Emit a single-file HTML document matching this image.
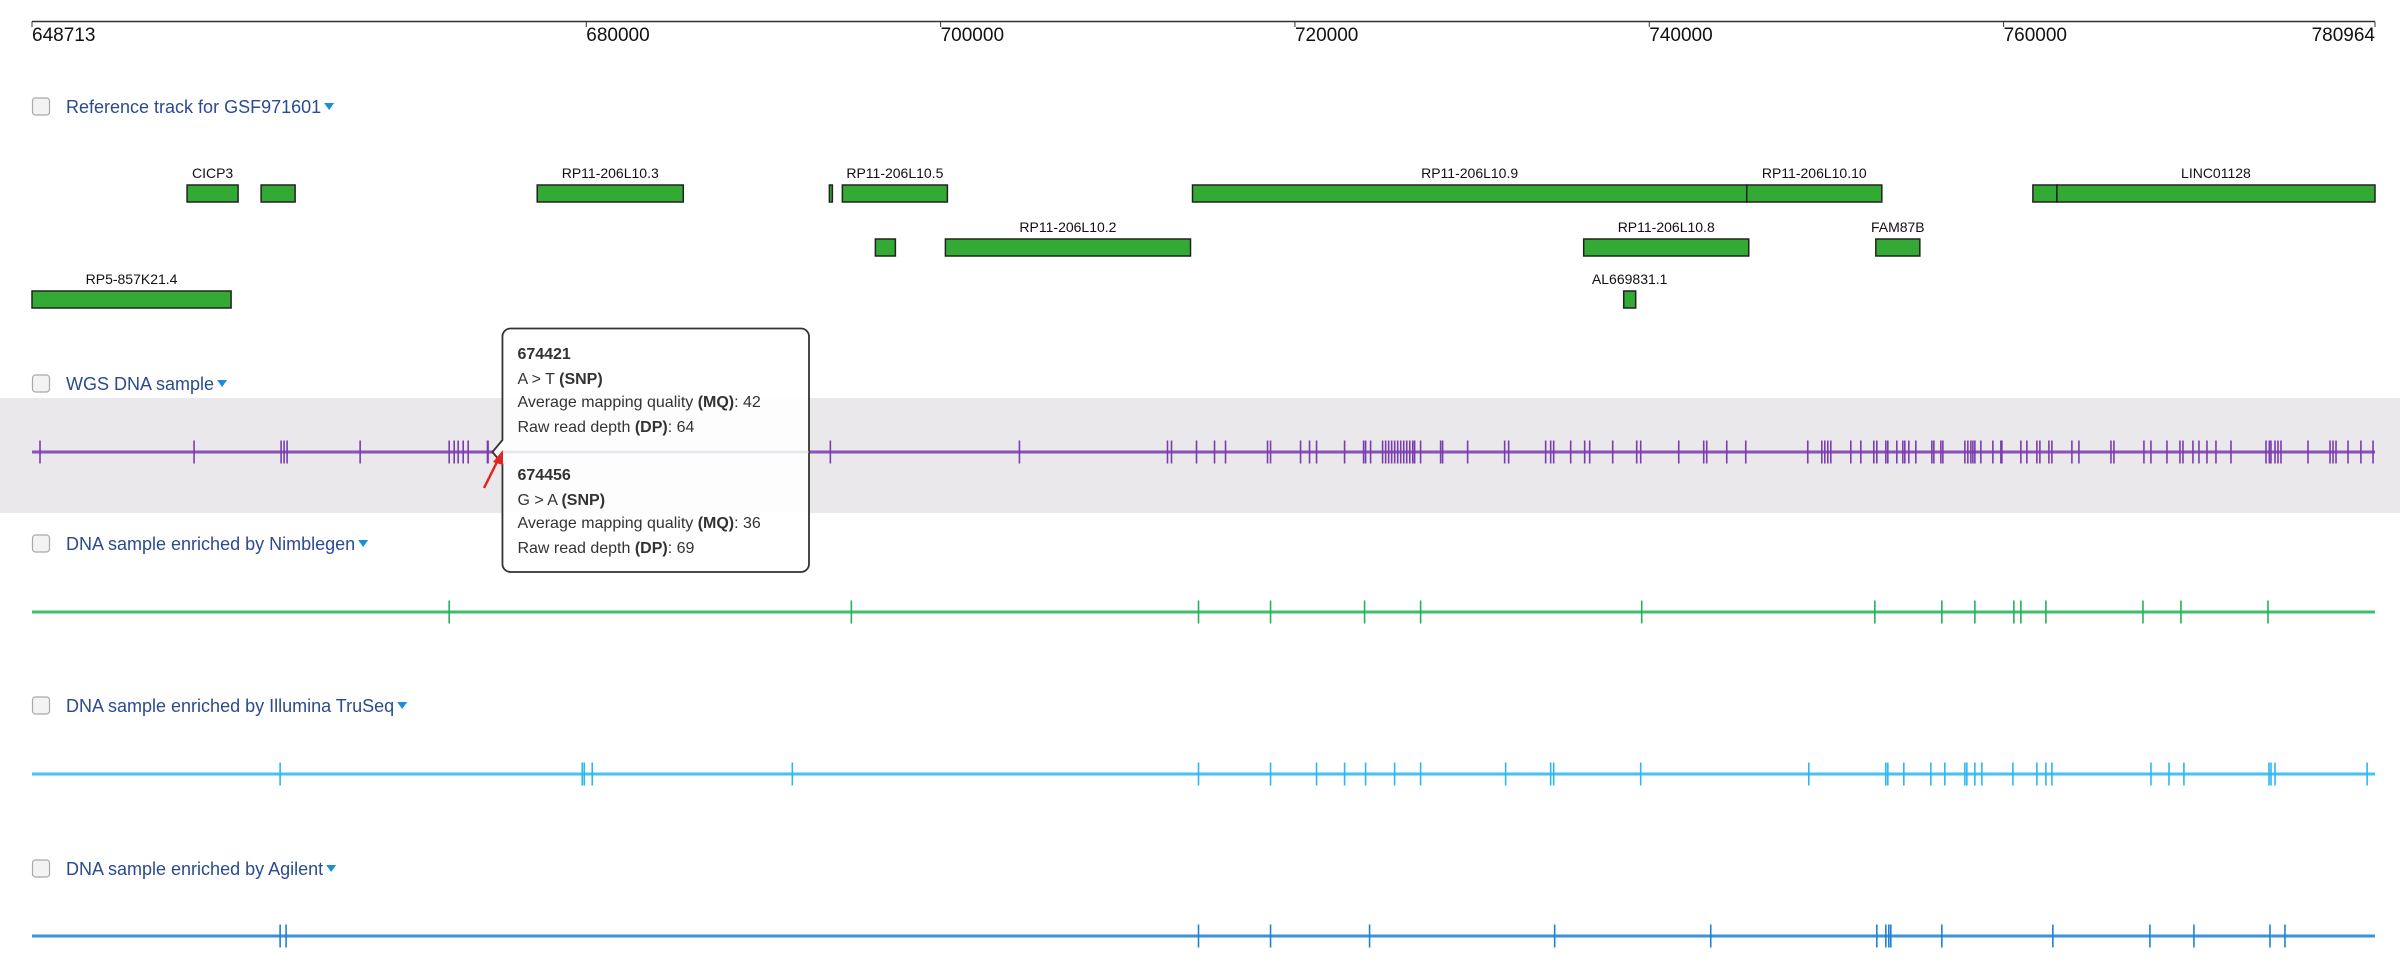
<!DOCTYPE html>
<html><head><meta charset="utf-8">
<style>
html,body{margin:0;padding:0;background:#fff;}
body{width:2400px;height:972px;overflow:hidden;position:relative;font-family:"Liberation Sans",Arial,sans-serif;}
svg{position:absolute;left:0;top:0;}
.lbl{font-size:18px;fill:#2b4a91;}
.gl{font-size:14px;fill:#111;text-anchor:middle;}
.ax{font-size:19px;fill:#111;}
.tt{font-size:16px;fill:#333;}
</style></head>
<body>
<svg id="chart" width="2400" height="972" viewBox="0 0 2400 972" xmlns="http://www.w3.org/2000/svg"></svg>
<script>
// ---- data ----
const axisStart = 648713;
const axisEnd = 780964;
const tickValues = [680000, 700000, 720000, 740000, 760000];
const geneNames = ["CICP3","","RP11-206L10.3","","RP11-206L10.5","RP11-206L10.9","RP11-206L10.10","","LINC01128","","RP11-206L10.2","RP11-206L10.8","FAM87B","RP5-857K21.4","AL669831.1"];
const geneStarts = [657466,661645,677230,693720,694454,714218,745503,761653,763008,696317,700270,736298,752787,648713,738557];
const geneEnds   = [660346,663565,685475,693890,700383,745503,753126,763008,780964,697447,714105,745616,755272,659951,739234];
const geneRows   = [0,0,0,0,0,0,0,0,0,1,1,1,1,2,2];
const wgsVariants = [649165,657861,662774,662943,663113,667235,672261,672543,672769,673052,673334,674421,674456,693776,704449,712806,713032,714444,715461,716082,718453,718623,720317,720825,721220,722802,723875,723988,724270,724948,725120,725290,725460,725630,725800,725970,726140,726310,726480,726650,726755,727093,728223,728336,729747,731837,732063,734152,734434,734604,735564,736354,736636,737936,739291,739517,741663,743074,743244,744373,745446,748947,749738,749907,750077,750246,751375,751940,752674,752844,753352,753465,753973,754312,754425,754651,755046,755950,756063,756458,756571,757813,757982,758152,758265,758378,758717,759394,759846,759902,760975,761314,761879,762048,762557,762726,763855,764251,766059,766228,767921,768316,769220,769954,770124,770688,771027,771479,771987,772834,774811,775000,775093,775319,775488,775658,777182,778425,778594,778764,779441,780168,780853];
const nimblegenVariants = [672261,694962,714557,718623,723931,727093,739573,752731,756514,758378,760580,760975,762387,767865,770011,774923];
const illuminaVariants = [662718,679772,679885,680336,691630,714557,718623,721220,722802,723988,725625,727093,731893,734434,734604,739517,749004,753352,753465,754369,755893,756683,757813,757926,758378,758773,760525,761879,762387,762728,768318,769336,770178,774980,775093,775319,780519];
const agilentVariants = [662718,663056,714557,718623,724213,734660,743470,752844,753352,753521,753634,756514,762782,768260,770743,775036,775882];
const tooltipPositions = [674421, 674456];
const tooltipAlleles = ["A > T", "G > A"];
const tooltipMQ = [42, 36];
const tooltipDP = [64, 69];

// ---- drawing ----
const NS = "http://www.w3.org/2000/svg";
const svg = document.getElementById("chart");
const X0 = 32, X1 = 2375;
function xScale(v){ return X0 + (v - axisStart) / (axisEnd - axisStart) * (X1 - X0); }
function mk(tag, attrs, parent){ const e = document.createElementNS(NS, tag); for (const k in attrs) e.setAttribute(k, attrs[k]); (parent||svg).appendChild(e); return e; }

// axis
const axG = mk("g", {});


mk("line", {x1:X0, y1:21.5, x2:X1, y2:21.5, stroke:"#333", "stroke-width":1.5}, axG);
const allTicks = [axisStart].concat(tickValues).concat([axisEnd]);
allTicks.forEach((v, i) => {
  const x = xScale(v);
  mk("line", {x1:x, y1:21.5, x2:x, y2:27, stroke:"#333", "stroke-width":1}, axG);
  const t = mk("text", {x:x, y:41, class:"ax", "text-anchor": i === allTicks.length-1 ? "end" : "start"}, axG);
  t.textContent = String(v);
  
  
});

// track headers
function header(y, text, name){
  const g = mk("g", {});
  
  
  const cb = mk("rect", {x:32.5, y:y-15, width:17, height:17, rx:3, fill:"#f3f3f3", stroke:"#a8a8a8", "stroke-width":1.2}, g);
  
  
  const t = mk("text", {x:66, y:y, class:"lbl"}, g);
  t.textContent = text;
  
  
  const w = t.getComputedTextLength ? t.getComputedTextLength() : text.length*9.3;
  const cx = 66 + w + 8;
  const c = mk("path", {d:`M${cx-5},${y-10} L${cx+5},${y-10} L${cx},${y-3} Z`, fill:"#1a8fd6"}, g);
  
  
}
header(113, "Reference track for GSF971601", "reference-track-header");
header(390, "WGS DNA sample", "wgs-track-header");
header(550, "DNA sample enriched by Nimblegen", "nimblegen-track-header");
header(712, "DNA sample enriched by Illumina TruSeq", "illumina-track-header");
header(875, "DNA sample enriched by Agilent", "agilent-track-header");

// genes
const rowBarY = [185, 239, 291];
const geneG = mk("g", {});


geneNames.forEach((n, i) => {
  const xa = xScale(geneStarts[i]), xb = xScale(geneEnds[i]);
  const y = rowBarY[geneRows[i]];
  const r = mk("rect", {x:xa, y:y, width:Math.max(2, xb-xa), height:17, fill:"#33aa33", stroke:"#222", "stroke-width":1.5}, geneG);
  
  
  if (n) {
    const t = mk("text", {x:(xa+xb)/2, y:y-7, class:"gl"}, geneG);
    t.textContent = n;
    
    
  }
});

// WGS band
const band = mk("rect", {x:0, y:398, width:2400, height:115, fill:"#eae8ea"});



function variantTrack(vals, y, color, name){
  const g = mk("g", {});
  
  
  mk("line", {x1:X0, y1:y, x2:X1, y2:y, stroke:color, "stroke-width":4, "stroke-opacity":0.45}, g);
  mk("line", {x1:X0, y1:y, x2:X1, y2:y, stroke:color, "stroke-width":1.5}, g);
  vals.forEach(v => {
    const x = xScale(v);
    const l = mk("line", {x1:x, y1:y-11.5, x2:x, y2:y+11.5, stroke:color, "stroke-width":1.6}, g);
    
    
  });
}
variantTrack(wgsVariants, 452, "#7a3db0", "wgs-variants");
variantTrack(nimblegenVariants, 612, "#22b35a", "nimblegen-variants");
variantTrack(illuminaVariants, 774, "#2bb8f0", "illumina-variants");
variantTrack(agilentVariants, 936, "#1f82cf", "agilent-variants");

// tooltip
const tg = mk("g", {});


const tipX = xScale(tooltipPositions[0]) + 14;
mk("path", {d:`M${tipX+9},328.5 H801 a8,8 0 0 1 8,8 V564 a8,8 0 0 1 -8,8 H${tipX+9} a8,8 0 0 1 -8,-8 V464 L${tipX-9},452 L${tipX+1},440 V336.5 a8,8 0 0 1 8,-8 Z`, fill:"rgba(255,255,255,0.9)", stroke:"#333", "stroke-width":1.8}, tg);
mk("line", {x1:tipX+1, y1:452, x2:809, y2:452, stroke:"#ddd", "stroke-width":1}, tg);
tooltipPositions.forEach((p, i) => {
  const by = 359 + i*121;
  const tx = tipX + 16;
  const t1 = mk("text", {x:tx, y:by, class:"tt", "font-weight":"bold"}, tg); t1.textContent = String(p);
  const t2 = mk("text", {x:tx, y:by+25, class:"tt"}, tg);
  t2.innerHTML = tooltipAlleles[i].replace(">", "&gt;") + ' <tspan font-weight="bold">(SNP)</tspan>';
  const t3 = mk("text", {x:tx, y:by+48, class:"tt"}, tg);
  t3.innerHTML = 'Average mapping quality <tspan font-weight="bold">(MQ)</tspan>: ' + tooltipMQ[i];
  const t4 = mk("text", {x:tx, y:by+73, class:"tt"}, tg);
  t4.innerHTML = 'Raw read depth <tspan font-weight="bold">(DP)</tspan>: ' + tooltipDP[i];
});

// red annotation arrow
const ar = mk("g", {});


mk("line", {x1:484, y1:488, x2:499, y2:458, stroke:"#e0261e", "stroke-width":2.5}, ar);
mk("path", {d:"M503,450 L493,462 L503,465 Z", fill:"#e0261e"}, ar);
</script>
</body></html>
